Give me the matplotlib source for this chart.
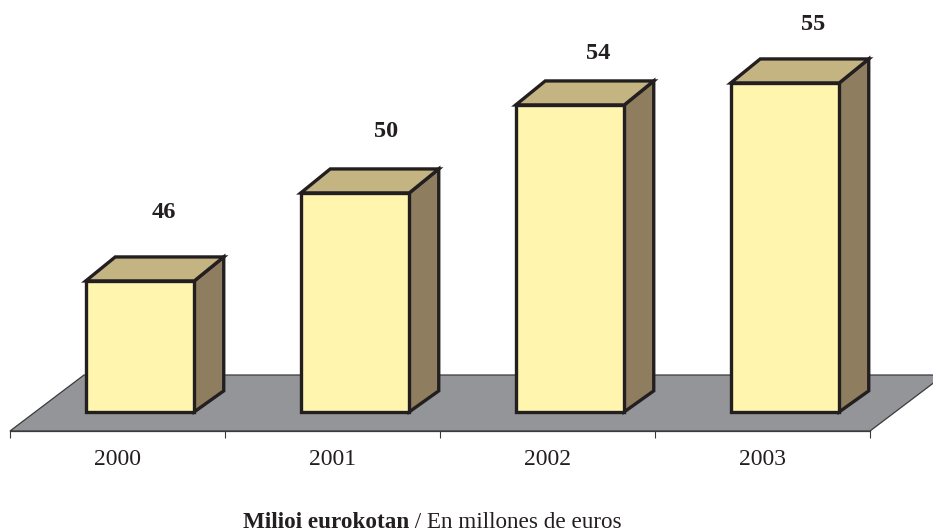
import matplotlib.pyplot as plt
from matplotlib.patches import Polygon

# datos
years = ['2000', '2001', '2002', '2003']
values = [46, 50, 54, 55]

W, H = 933, 531
plt.rcParams['font.family'] = ['Liberation Serif', 'DejaVu Serif']

fig = plt.figure(figsize=(W / 100, H / 100), dpi=100)
# ejes en pixeles de la referencia: x de 10 a 869, abajo en y=431
ax = fig.add_axes([10 / W, (H - 431) / H, 860 / W, 431 / H])
ymin, ymax = 39.18, 58.77
ax.set_xlim(0, 4)
ax.set_ylim(ymin, ymax)

px_x = 860 / 4   # pixeles por categoria
px_y = 431 / (ymax - ymin)   # pixeles por unidad

edge = '#231f20'
front_c = '#fff5ae'
top_c = '#c4b482'
side_c = '#8e7d5e'
floor_c = '#939598'

# suelo
base = 40.05
floor_dx = 74 / px_x
floor_dy = 56 / px_y
ax.add_patch(Polygon([(0, ymin), (4, ymin), (4 + floor_dx, ymin + floor_dy), (floor_dx, ymin + floor_dy)],
                     closed=True, facecolor=floor_c, edgecolor='#3a3a3c', linewidth=0.9,
                     clip_on=False, zorder=1))

# barras
width = 108.5 / px_x
shift = 22.5 / px_x
dx = 29.5 / px_x
dy_top = 24 / px_y
dy_bot = 21 / px_y
label_dx = [24, 31, 28, 28]
label_dy = [68, 61, 51, 58]

for i, v in enumerate(values):
    x0 = i + 0.5 + shift - width / 2
    x1 = x0 + width
    style = dict(closed=True, edgecolor=edge, linewidth=2.4, joinstyle='miter', clip_on=False, zorder=3)
    ax.add_patch(Polygon([(x1, base), (x1 + dx, base + dy_bot), (x1 + dx, v + dy_top), (x1, v)],
                         facecolor=side_c, **style))
    ax.add_patch(Polygon([(x0, v), (x1, v), (x1 + dx, v + dy_top), (x0 + dx, v + dy_top)],
                         facecolor=top_c, **style))
    ax.add_patch(Polygon([(x0, base), (x1, base), (x1, v), (x0, v)],
                         facecolor=front_c, **style))
    ax.annotate(str(v), xy=((x0 + x1) / 2, v), xytext=(label_dx[i] * 0.72, label_dy[i] * 0.72),
                textcoords='offset points', ha='center', va='center',
                fontsize=17.5, fontweight='bold', color=edge)

# ejes
for s in ['top', 'left', 'right']:
    ax.spines[s].set_visible(False)
ax.spines['bottom'].set_color('#3a3a3c')
ax.spines['bottom'].set_linewidth(0.9)
ax.spines['bottom'].set_zorder(2)
ax.patch.set_alpha(0)
ax.set_yticks([])
ax.set_xticks(range(5))
ax.set_xticklabels([])
ax.tick_params(axis='x', which='major', length=5, width=0.8, color='#3a3a3c')
ax.set_xticks([i + 0.5 for i in range(4)], minor=True)
ax.set_xticklabels(years, minor=True, fontsize=17, color=edge)
ax.tick_params(axis='x', which='minor', length=0, pad=13)

# pie de figura, negrita + normal
t1 = fig.text(243 / W, 1 - 522 / H, 'Milioi eurokotan', fontsize=16.7, fontweight='bold',
              color=edge, ha='left', va='center')
ax.annotate(' / En millones de euros', xy=(1, 0.5), xycoords=t1, xytext=(0, 0),
            textcoords='offset points', ha='left', va='center', fontsize=16.7, color=edge,
            annotation_clip=False)

plt.savefig('out.png', dpi=100)
plt.close()
